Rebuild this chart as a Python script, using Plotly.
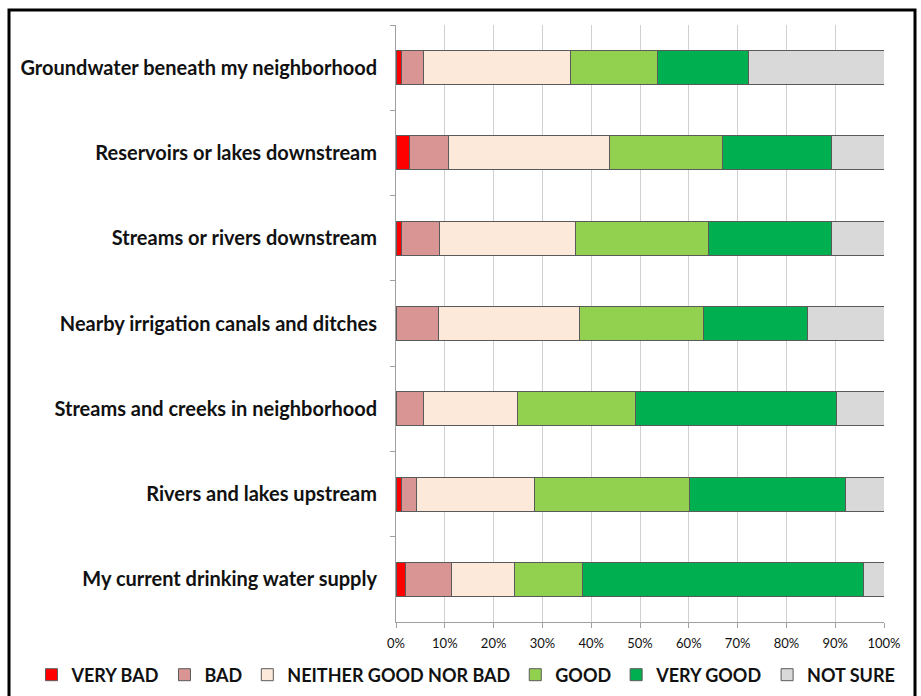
import plotly.graph_objects as go

# Survey items, listed top to bottom
categories = [
    "Groundwater beneath my neighborhood",
    "Reservoirs or lakes downstream",
    "Streams or rivers downstream",
    "Nearby irrigation canals and ditches",
    "Streams and creeks in neighborhood",
    "Rivers and lakes upstream",
    "My current drinking water supply",
]

# Share of responses (%) per rating, same order as categories
very_bad = [1.1, 2.8, 1.1, 0.0, 0.0, 1.1, 1.9]
bad = [4.5, 7.9, 7.8, 8.8, 5.6, 3.2, 9.5]
neither = [30.1, 33.1, 27.8, 28.9, 19.3, 24.0, 12.8]
good = [17.8, 23.2, 27.4, 25.4, 24.1, 31.8, 14.0]
very_good = [18.8, 22.2, 25.1, 21.2, 41.2, 32.0, 57.6]
not_sure = [27.7, 10.8, 10.8, 15.7, 9.8, 7.9, 4.2]

series_names = ["VERY BAD", "BAD", "NEITHER GOOD NOR BAD", "GOOD", "VERY GOOD", "NOT SURE"]
series_values = [very_bad, bad, neither, good, very_good, not_sure]
series_colors = ["#FF0000", "#D99594", "#FDE9D9", "#92D050", "#00B050", "#D9D9D9"]

tick_vals = [0, 10, 20, 30, 40, 50, 60, 70, 80, 90, 100]
tick_text = [f"{v}%" for v in tick_vals]

FONT = "Lato"

fig = go.Figure()
for name, vals, color in zip(series_names, series_values, series_colors):
    fig.add_trace(go.Bar(
        y=categories,
        x=vals,
        name=name,
        orientation="h",
        width=0.4,
        marker=dict(color=color, line=dict(color="#5A5A5A", width=1)),
        hoverinfo="x+y+name",
    ))

# Figure size and plot-area edges in pixels
W, H = 921, 696
L, R, T, B = 396, 884, 25, 622


def px_x(p):
    return p / W


def px_y(p):
    return (B - p) / (B - T)


fig.update_layout(
    width=W,
    height=H,
    autosize=False,
    barmode="stack",
    plot_bgcolor="white",
    paper_bgcolor="white",
    margin=dict(l=0, r=0, t=T, b=H - B, pad=0, autoexpand=False),
    font=dict(family=FONT, color="#111111"),
    xaxis=dict(
        domain=[L / W, R / W],
        range=[0, 100],
        tickvals=tick_vals,
        ticktext=tick_text,
        showgrid=True,
        gridcolor="#D0D0D0",
        gridwidth=1,
        showline=True,
        linecolor="#A0A0A0",
        linewidth=1,
        ticks="outside",
        ticklen=5,
        tickcolor="#A0A0A0",
        ticklabelstandoff=4,
        tickfont=dict(family=FONT, size=13, color="#111111"),
        zeroline=False,
        automargin=False,
        fixedrange=True,
    ),
    yaxis=dict(
        autorange="reversed",
        showline=True,
        linecolor="#A0A0A0",
        linewidth=1,
        ticks="outside",
        tickson="boundaries",
        ticklen=5,
        tickcolor="#A0A0A0",
        ticklabelstandoff=14,
        tickfont=dict(family=FONT, size=20, color="#111111", weight="bold"),
        showgrid=False,
        automargin=False,
        fixedrange=True,
    ),
    legend=dict(
        orientation="h",
        x=466 / W,
        xanchor="center",
        y=px_y(675),
        yanchor="middle",
        font=dict(family=FONT, size=18, color="#111111", weight="bold"),
        traceorder="normal",
        itemwidth=30,
        bgcolor="rgba(0,0,0,0)",
    ),
    showlegend=True,
    shapes=[
        dict(
            type="rect",
            xref="paper",
            yref="paper",
            x0=px_x(9),
            x1=px_x(915),
            y0=px_y(760),
            y1=px_y(10),
            line=dict(color="black", width=3),
            fillcolor="rgba(0,0,0,0)",
            layer="above",
        )
    ],
)

fig.write_html("out.html")
